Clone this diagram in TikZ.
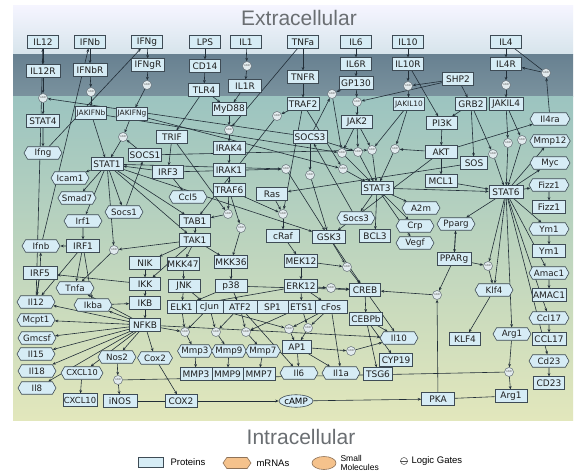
\documentclass[tikz,border=0pt]{standalone}
\usepackage{fontspec}
\setmainfont{DejaVu Sans}
\newfontfamily\titlefont{Liberation Sans}
\usetikzlibrary{shapes.geometric,shapes.symbols,arrows.meta}
\definecolor{pfill}{HTML}{D6ECF5}
\definecolor{pborder}{HTML}{3E4B55}
\definecolor{edgec}{HTML}{222E38}
\definecolor{gfill}{HTML}{E2EBEE}
\definecolor{ofill}{HTML}{F5C28C}
\definecolor{oborder}{HTML}{8E7258}
\definecolor{titlec}{HTML}{6A6E72}
\pgfdeclarelayer{back}
\pgfdeclarelayer{edges}
\pgfsetlayers{back,edges,main}
\tikzset{
  prot/.style={rectangle, draw=pborder, fill=pfill, line width=0.6pt, minimum width=31pt, minimum height=12.5pt, inner sep=0.6pt, font=\fontsize{9}{9}\selectfont, text=black!88},
  protsm/.style={prot, font=\fontsize{7.4}{8}\selectfont},
  hexa/.style={signal, signal to=east and west, signal pointer angle=120, draw=pborder, fill=pfill, line width=0.6pt, minimum width=38pt, minimum height=12.5pt, inner sep=0.3pt, font=\fontsize{8.7}{9}\selectfont, text=black!88},
  gate/.style={circle, draw=pborder!80, fill=gfill, line width=0.5pt, minimum size=9pt, inner sep=0pt, font=\fontsize{2.6}{3}\selectfont, text=black!60},
  smol/.style={ellipse, draw=pborder, fill=pfill, line width=0.6pt, minimum width=30pt, minimum height=12.5pt, inner sep=0.3pt, font=\fontsize{8.7}{9}\selectfont},
  arr/.style={draw=edgec, line width=0.6pt, -{Stealth[length=3.4pt,width=2.8pt]}},
  ln/.style={draw=edgec, line width=0.6pt}
}
\begin{document}
\begin{tikzpicture}[x=1pt,y=-1pt]
\useasboundingbox (0,0) rectangle (575,473);
\begin{pgfonlayer}{back}
\fill[white] (0,0) rectangle (575,473);
\shade[top color=white!96!blue, bottom color={rgb,255:red,214;green,228;blue,235}] (13,6) rectangle (573,55);
\shade[top color={rgb,255:red,104;green,129;blue,145}, bottom color={rgb,255:red,122;green,146;blue,158}] (13,55) rectangle (573,97);
\shade[top color={rgb,255:red,156;green,196;blue,192}, middle color={rgb,255:red,194;green,217;blue,194}, bottom color={rgb,255:red,226;green,231;blue,188}] (13,97) rectangle (573,420);
\end{pgfonlayer}
\node[font=\titlefont\fontsize{21}{22}\selectfont, text=titlec] (ttop) at (299,18) {Extracellular};
\node[font=\titlefont\fontsize{21}{22}\selectfont, text=titlec] (tbot) at (301,437) {Intracellular};
% proteins
\node[prot] (IL12) at (43,42) {IL12};
\node[prot] (IFNb) at (90,42) {IFNb};
\node[prot] (IFNg) at (147,42) {IFNg};
\node[prot] (LPS) at (205,42) {LPS};
\node[prot] (IL1) at (246,42) {IL1};
\node[prot] (TNFa) at (303,42) {TNFa};
\node[prot] (IL6) at (356,42) {IL6};
\node[prot] (IL10) at (408,42) {IL10};
\node[prot] (IL4) at (506,42) {IL4};
\node[prot, minimum width=34pt] (IL12R) at (43,71) {IL12R};
\node[prot, minimum width=34pt] (IFNbR) at (90,70) {IFNbR};
\node[prot, minimum width=33pt] (IFNgR) at (148,65) {IFNgR};
\node[prot] (CD14) at (205,66) {CD14};
\node[prot] (TNFR) at (303,77) {TNFR};
\node[prot] (IL6R) at (356,64) {IL6R};
\node[prot, minimum width=34pt] (GP130) at (356,83) {GP130};
\node[prot] (IL10R) at (408,64) {IL10R};
\node[prot] (IL4R) at (506,64) {IL4R};
\node[prot] (SHP2) at (458,79) {SHP2};
\node[prot] (TLR4) at (204,90) {TLR4};
\node[prot, minimum width=33pt] (IL1R) at (245,86) {IL1R};
\node[prot, minimum width=33pt] (STAT4) at (43,121) {STAT4};
\node[protsm] (JAKIFNb) at (91,113) {JAKIFNb};
\node[protsm] (JAKIFNg) at (132,114) {JAKIFNg};
\node[prot, minimum width=34pt] (MyD88) at (229,109) {MyD88};
\node[prot, minimum width=32pt] (TRAF2) at (303,104) {TRAF2};
\node[protsm] (JAKIL10) at (409,104) {JAKIL10};
\node[prot] (GRB2) at (471,104) {GRB2};
\node[prot, minimum width=34pt] (JAKIL4) at (506,104) {JAKIL4};
\node[prot] (JAK2) at (357,122) {JAK2};
\node[prot] (PI3K) at (442,123) {PI3K};
\node[prot] (TRIF) at (172,137) {TRIF};
\node[prot, minimum width=34pt] (SOCS3) at (310,137) {SOCS3};
\node[prot, minimum width=33pt] (SOCS1) at (145,155) {SOCS1};
\node[prot, minimum width=32pt] (IRAK4) at (229,148) {IRAK4};
\node[prot, minimum width=32pt] (AKT) at (441,152) {AKT};
\node[prot, minimum width=27pt] (SOS) at (474,163) {SOS};
\node[prot, minimum width=32pt] (STAT1) at (107,164) {STAT1};
\node[prot] (IRF3) at (168,172) {IRF3};
\node[prot, minimum width=32pt] (IRAK1) at (229,170) {IRAK1};
\node[prot, minimum width=32pt] (MCL1) at (441,181) {MCL1};
\node[prot, minimum width=32pt] (STAT3) at (377,188) {STAT3};
\node[prot, minimum width=34pt] (STAT6) at (506,192) {STAT6};
\node[prot, minimum width=32pt] (TRAF6) at (229,190) {TRAF6};
\node[prot] (Ras) at (272,194) {Ras};
\node[prot] (TAB1) at (195,221) {TAB1};
\node[prot] (TAK1) at (195,240) {TAK1};
\node[prot, minimum width=33pt] (cRaf) at (283,236) {cRaf};
\node[prot, minimum width=33pt] (GSK3) at (329,237) {GSK3};
\node[prot] (BCL3) at (375,236) {BCL3};
\node[prot, minimum width=33pt] (IRF1) at (83,246) {IRF1};
\node[prot] (NIK) at (145,263) {NIK};
\node[prot, minimum width=32pt] (MKK47) at (183,264) {MKK47};
\node[prot, minimum width=33pt] (MKK36) at (231,262) {MKK36};
\node[prot, minimum width=33pt] (MEK12) at (301,261) {MEK12};
\node[prot, minimum width=34pt] (PPARg) at (454,259) {PPARg};
\node[prot, minimum width=34pt] (IRF5) at (40,273) {IRF5};
\node[prot] (IKK) at (145,284) {IKK};
\node[prot, minimum width=32pt] (JNK) at (184,286) {JNK};
\node[prot, minimum width=32pt] (p38) at (231,286) {p38};
\node[prot, minimum width=33pt] (ERK12) at (301,286) {ERK12};
\node[prot] (CREB) at (365,290) {CREB};
\node[prot] (IKB) at (145,303) {IKB};
\node[prot, minimum width=29pt] (ELK1) at (181.5,307) {ELK1};
\node[prot, minimum width=27pt] (cJun) at (209.5,307) {cJun};
\node[prot, minimum width=34pt] (ATF2) at (240,307) {ATF2};
\node[prot, minimum width=31pt] (SP1) at (272.5,307) {SP1};
\node[prot, minimum width=27pt] (ETS1) at (301.5,307) {ETS1};
\node[prot, minimum width=32pt] (cFos) at (331,307) {cFos};
\node[prot, minimum width=33pt] (CEBPb) at (366,319) {CEBPb};
\node[prot] (NFKB) at (145,325) {NFKB};
\node[prot, minimum width=29pt] (AP1) at (297,347) {AP1};
\node[prot] (KLF4) at (465,339) {KLF4};
\node[prot, minimum width=34pt] (CCL17) at (549,339) {CCL17};
\node[prot, minimum width=33pt] (CYP19) at (396,360) {CYP19};
\node[prot, minimum width=32pt] (MMP3) at (196,374) {MMP3};
\node[prot, minimum width=31pt] (MMP9) at (227.5,374) {MMP9};
\node[prot, minimum width=32pt] (MMP7) at (259,374) {MMP7};
\node[prot, minimum width=29pt] (TSG6) at (378,374) {TSG6};
\node[prot] (CD23) at (549,383) {CD23};
\node[prot, minimum width=34pt, font=\fontsize{8.4}{9}\selectfont] (CXCL10b) at (80,400) {CXCL10};
\node[prot, minimum width=34pt] (iNOS) at (120,401) {iNOS};
\node[prot, minimum width=32pt] (COX2) at (181,401) {COX2};
\node[prot, minimum width=33pt] (PKA) at (438,399) {PKA};
\node[prot, minimum width=32pt] (Arg1b) at (511,396) {Arg1};
\node[prot, minimum width=33pt] (Fizz1b) at (549,207) {Fizz1};
\node[prot, minimum width=33pt] (Ym1b) at (549,251) {Ym1};
\node[prot, minimum width=34pt] (AMAC1) at (549,295) {AMAC1};
% mRNAs
\node[hexa] (hIfng) at (43,153) {Ifng};
\node[hexa] (hIcam1) at (70,178) {Icam1};
\node[hexa] (hSmad7) at (77,198) {Smad7};
\node[hexa] (hSocs1) at (124,212) {Socs1};
\node[hexa] (hIrf1) at (83,221) {Irf1};
\node[hexa] (hIfnb) at (41,246) {Ifnb};
\node[hexa] (hTnfa) at (75,288) {Tnfa};
\node[hexa] (hIl12) at (36,302) {Il12};
\node[hexa] (hIkba) at (93,305) {Ikba};
\node[hexa] (hMcpt1) at (36,320) {Mcpt1};
\node[hexa] (hGmcsf) at (37,338) {Gmcsf};
\node[hexa] (hIl15) at (36,354) {Il15};
\node[hexa] (hIl18) at (37,371) {Il18};
\node[hexa] (hIl8) at (37,388) {Il8};
\node[hexa, minimum width=42pt, font=\fontsize{8.2}{9}\selectfont] (hCXCL10) at (82,373) {CXCL10};
\node[hexa] (hNos2) at (117,357) {Nos2};
\node[hexa, minimum width=35pt] (hCox2) at (155,358) {Cox2};
\node[hexa, minimum width=35pt] (hMmp3) at (195,351) {Mmp3};
\node[hexa, minimum width=35pt] (hMmp9) at (229,351) {Mmp9};
\node[hexa, minimum width=35pt] (hMmp7) at (263,351) {Mmp7};
\node[hexa] (hIl6) at (299,373) {Il6};
\node[hexa] (hIl1a) at (341,373) {Il1a};
\node[hexa] (hIl10) at (399,338) {Il10};
\node[hexa] (hCcl5) at (188,197) {Ccl5};
\node[hexa] (hSocs3) at (356,218) {Socs3};
\node[hexa] (hA2m) at (421,208) {A2m};
\node[hexa] (hCrp) at (415,226) {Crp};
\node[hexa] (hVegf) at (415,243) {Vegf};
\node[hexa] (hPparg) at (456,224) {Pparg};
\node[hexa] (hKlf4) at (494,290) {Klf4};
\node[hexa] (hArg1) at (512,334) {Arg1};
\node[hexa, minimum width=40pt] (hIl4ra) at (550,119) {Il4ra};
\node[hexa, minimum width=40pt] (hMmp12) at (550,141) {Mmp12};
\node[hexa, minimum width=40pt] (hMyc) at (550,163) {Myc};
\node[hexa, minimum width=40pt] (hFizz1) at (549,185) {Fizz1};
\node[hexa, minimum width=40pt] (hYm1) at (549,229) {Ym1};
\node[hexa, minimum width=40pt] (hAmac1) at (549,273) {Amac1};
\node[hexa, minimum width=40pt] (hCcl17) at (549,318) {Ccl17};
\node[hexa, minimum width=40pt] (hCd23) at (549,361) {Cd23};
% small molecule
\node[smol] (cAMP) at (296,401) {cAMP};
% gates
\node[gate] (gIL12) at (43,98) {AND};
\node[gate] (gIFNb) at (91,92) {AND};
\node[gate] (gIFNg) at (147,85) {AND};
\node[gate] (gIL1) at (247,66) {AND};
\node[gate] (gIL6a) at (332,94) {AND};
\node[gate] (gIL6b) at (357,102) {AND};
\node[gate] (gIL10) at (408,86) {AND};
\node[gate] (gIL4R) at (506,85) {AND};
\node[gate] (gIL4) at (546,73) {AND};
\node[gate] (gJAKIFNg) at (123,137) {AND};
\node[gate] (gMyD) at (229,130) {AND};
\node[gate] (gTRAF2) at (277,116) {AND};
\node[gate] (gJ1) at (342,153) {AND};
\node[gate] (gJ2) at (358,152) {AND};
\node[gate] (gJ3) at (372,150) {AND};
\node[gate] (gJ4) at (395,149) {AND};
\node[gate] (gS1) at (343,169) {AND};
\node[gate] (gS2) at (310,175) {AND};
\node[gate] (gS3) at (286,169) {AND};
\node[gate] (gSOS) at (493,154) {AND};
\node[gate] (g6a) at (508,143) {AND};
\node[gate] (g6b) at (522,140) {AND};
\node[gate] (gIRF1) at (114,250) {AND};
\node[gate] (gTRAF6a) at (228,214) {AND};
\node[gate] (gTRAF6b) at (241,228) {AND};
\node[gate] (gRas) at (283,214) {AND};
\node[gate] (gMEK) at (347,267) {AND};
\node[gate] (gERK) at (331,288) {AND};
\node[gate] (gT1) at (185,332) {AND};
\node[gate] (gT2) at (216,332) {AND};
\node[gate] (gT3) at (246,332) {AND};
\node[gate] (gT4) at (289,329) {AND};
\node[gate] (gT5) at (308,328) {AND};
\node[gate] (gAP1) at (351,351) {AND};
\node[gate] (gNos) at (118,380) {AND};
\node[gate] (gArg) at (509,372) {AND};
\node[gate] (gPP) at (488,266) {AND};
\node[gate] (gCREB) at (437,295) {AND};
% edges
\begin{pgfonlayer}{edges}
\foreach \a/\b in {IL12/IL12R, IL12R/gIL12, gIL12/STAT4, STAT4/hIfng, hIfng/IFNg, hIl12/IL12, hIfnb/IFNb,
 IFNb/IFNbR, IFNbR/gIFNb, gIFNb/JAKIFNb, JAKIFNb/STAT1,
 IFNg/IFNgR, IFNgR/gIFNg, gIFNg/JAKIFNg, JAKIFNg/gJAKIFNg, gJAKIFNg/STAT1, SOCS1/gJAKIFNg,
 LPS/CD14, CD14/TLR4, TLR4/MyD88, TLR4/TRIF, TRIF/IRF3, IRF3/hCcl5, IRF3/STAT1,
 IL1/gIL1, gIL1/IL1R, IL1R/MyD88, MyD88/gMyD, gMyD/IRAK4, IRAK4/IRAK1, IRAK1/TRAF6, TNFa/gMyD,
 TNFa/TNFR, TNFR/TRAF2, TRAF2/gTRAF2, gTRAF2/TAB1,
 IL6/IL6R, IL6R/GP130, GP130/gIL6b, gIL6b/JAK2, GP130/gIL6a, SOCS3/gIL6a, gIL6a/gJ1,
 JAK2/gJ1, JAK2/gJ2, JAK2/gJ3, gJ1/STAT3, gJ2/STAT3, gJ3/STAT3, gJ4/STAT3, gS1/STAT3,
 IL10/IL10R, IL10R/gIL10, gIL10/JAKIL10, JAKIL10/gJ4, JAKIL10/gJ3, IL10R/PI3K, PI3K/AKT, AKT/MCL1, AKT/gJ4, AKT/GSK3, GRB2/PI3K,
 SHP2/GRB2, SHP2/gIL10, SHP2/gIL6b, GRB2/SOS, SOS/Ras,
 IL4/IL4R, IL4R/gIL4R, gIL4R/JAKIL4, hIl4ra/gIL4, gIL4/IL4R, JAKIL4/g6a, JAKIL4/g6b, GRB2/gSOS, gSOS/STAT6, g6a/STAT6, g6b/STAT6, AKT/hIl4ra,
 STAT6/hMmp12, STAT6/hMyc, STAT6/hFizz1, STAT6/hYm1, STAT6/hAmac1, STAT6/hCcl17, STAT6/hCd23, STAT6/hArg1, STAT6/hKlf4, STAT6/gPP, STAT6/hPparg, STAT3/STAT6, MCL1/STAT6,
 hFizz1/Fizz1b, hYm1/Ym1b, hAmac1/AMAC1, hCcl17/CCL17, hCd23/CD23, hArg1/gArg, gArg/Arg1b, hKlf4/KLF4, hPparg/PPARg, PPARg/hPparg, gPP/hKlf4, PPARg/gPP,
 cAMP/PKA, COX2/cAMP, hCox2/COX2, hNos2/gNos, gNos/iNOS, PKA/gCREB, gCREB/CREB, PPARg/gCREB,
 STAT3/hSocs3, STAT3/BCL3, STAT3/hA2m, STAT3/hCrp, STAT3/hVegf, hSocs3/SOCS3, SOCS3/gIL12, SOCS3/gS2, gS2/GSK3, gS3/GSK3, STAT1/gS3, SOCS3/gJ2,
 STAT1/hIcam1, STAT1/hSmad7, STAT1/hIrf1, STAT1/hSocs1, STAT1/gIRF1, TAK1/gIRF1, gIRF1/hTnfa,
 hSocs1/SOCS1, hIrf1/IRF1, IRF1/hIfnb, IRF1/hTnfa, IRF1/hIkba, IRF1/hIl12, IRF5/hIfnb, IRF5/hIl12, IKK/IRF5,
 hIkba/IKB, IKB/NFKB, IKK/IKB, NIK/IKK, TAK1/NIK, TAK1/IKK, TAB1/TAK1, TRAF6/gTRAF6a, gTRAF6a/TAB1, TRAF6/gTRAF6b, gTRAF6b/MKK36, TAK1/MKK47, TAK1/MKK36, MKK47/JNK, MKK36/p38, JNK/cJun, JNK/ELK1, p38/ATF2, p38/ELK1, p38/CREB,
 ERK12/ELK1, ERK12/ETS1, ERK12/cFos, ERK12/gERK, gERK/CREB, MEK12/gMEK, gMEK/CREB, Ras/gRas, gRas/cRaf, TRAF6/gRas, cRaf/MEK12, MEK12/ERK12, GSK3/gMEK,
 NFKB/hIkba, NFKB/hIl12, NFKB/hMcpt1, NFKB/hGmcsf, NFKB/hIl15, NFKB/hIl18, NFKB/hIl8, NFKB/hCXCL10, NFKB/hNos2, NFKB/hCox2, NFKB/hTnfa, NFKB/hIl10, NFKB/gT1,
 hCXCL10/CXCL10b,
 cJun/gT1, ELK1/gT1, ATF2/gT2, cJun/gT2, ETS1/gT3, ATF2/gT3, gT1/hMmp3, gT2/hMmp9, gT3/hMmp7, hMmp3/MMP3, hMmp9/MMP9, hMmp7/MMP7,
 cJun/gT4, cFos/gT4, gT4/AP1, cFos/gT5, ETS1/gT5, gT5/AP1, AP1/hIl6, AP1/hIl1a, AP1/gAP1, gAP1/hIl10,
 CREB/CEBPb, CREB/hIl10, CEBPb/hIl10, CEBPb/CYP19, CEBPb/TSG6, cFos/hIl1a, ATF2/hIl6, GSK3/CREB,
 STAT1/TAB1, STAT1/TAK1, STAT1/GSK3, JAKIFNg/gS1, JAKIFNb/gJ1, IRF3/gS3, TRAF2/gS1, SOCS1/gJ3, TRIF/gTRAF6a, TRAF2/gRas}
 \draw[arr] (\a) -- (\b);
\foreach \a/\b in {IL4/gIL4, iNOS/COX2, gNos/gArg, PKA/Arg1b, hIl12/IRF5}
 \draw[ln] (\a) -- (\b);
\end{pgfonlayer}
% legend
\node[rectangle, draw=pborder, fill=pfill, line width=0.6pt, minimum width=25pt, minimum height=10pt] (lgP) at (151,462) {};
\node[anchor=west, font=\titlefont\fontsize{9.5}{10}\selectfont] (lgPt) at (167,462) {Proteins};
\node[signal, signal to=east and west, signal pointer angle=110, draw=oborder, fill=ofill, line width=0.6pt, minimum width=28pt, minimum height=11pt] (lgM) at (237,463) {};
\node[anchor=west, font=\titlefont\fontsize{9.5}{10}\selectfont] (lgMt) at (253,463) {mRNAs};
\node[ellipse, draw=oborder, fill=ofill, line width=0.6pt, minimum width=24pt, minimum height=13pt] (lgS) at (324,463) {};
\node[anchor=west, align=left, font=\titlefont\fontsize{8.5}{9}\selectfont] (lgSt) at (337,463) {Small\\Molecules};
\node[circle, draw=black!70, line width=0.5pt, minimum size=7pt, inner sep=0pt] (lgG) at (404,461) {};
\draw[black!70, line width=0.5pt] (lgG.west) -- (lgG.east);
\node[anchor=west, font=\titlefont\fontsize{9.5}{10}\selectfont] (lgGt) at (408,461) {Logic Gates};
\end{tikzpicture}
\end{document}
